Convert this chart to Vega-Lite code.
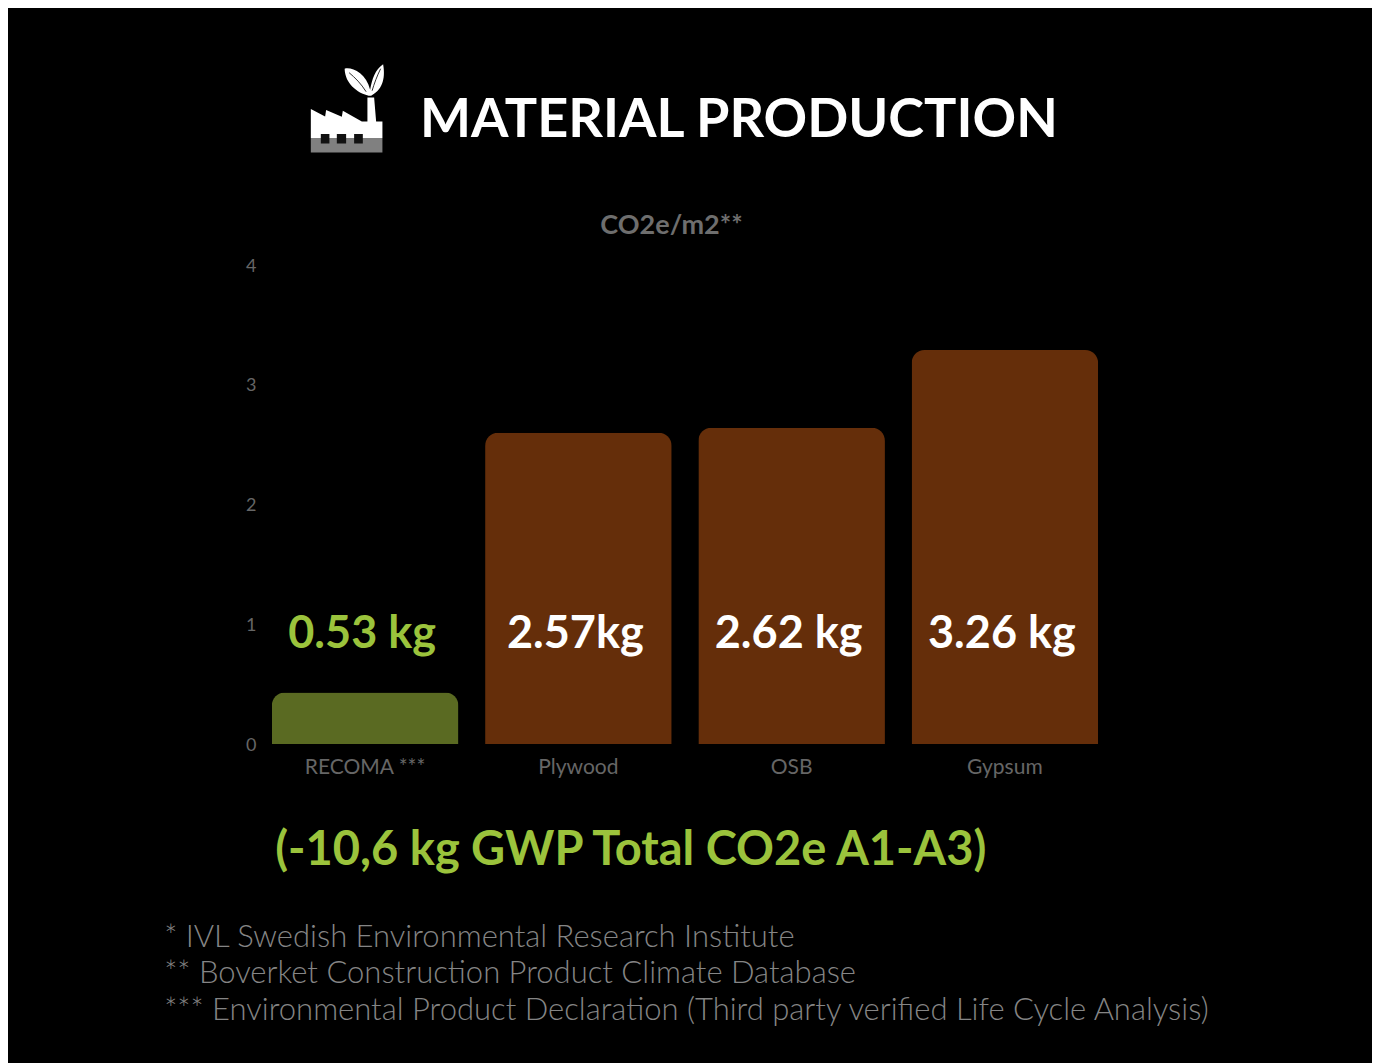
{"$schema":"https://vega.github.io/schema/vega-lite/v6.json","width":1364,"height":1055,"autosize":"none","padding":{"left":8,"top":8,"right":5,"bottom":0},"background":"#ffffff","view":{"fill":"#000000","stroke":null},"title":{"text":"MATERIAL PRODUCTION","anchor":"start","frame":"group","dx":412,"dy":144,"font":"Lato","fontWeight":"bold","fontSize":54,"color":"#ffffff"},"resolve":{"scale":{"color":"independent"}},"layer":[{"data":{"values":[{"material":"RECOMA ***","value":0.43,"group":"recoma"},{"material":"Plywood","value":2.6,"group":"other"},{"material":"OSB","value":2.64,"group":"other"},{"material":"Gypsum","value":3.29,"group":"other"}]},"mark":{"type":"bar","cornerRadiusTopLeft":13,"cornerRadiusTopRight":13},"encoding":{"x":{"field":"material","type":"nominal","sort":null,"scale":{"range":[250.5,1103.5],"paddingInner":0.125,"paddingOuter":0.0625},"axis":{"title":null,"offset":-319,"domain":false,"ticks":false,"labelAngle":0,"labelPadding":12,"labelFont":"Lato","labelFontSize":21,"labelColor":"#666666"}},"y":{"field":"value","type":"quantitative","scale":{"domain":[0,4],"range":[736,257],"nice":false},"axis":{"title":"CO2e/m2**","titleAngle":0,"titleFont":"Lato","titleFontWeight":"bold","titleFontSize":27,"titleColor":"#6e6e6e","titleX":413,"titleY":217,"titleAlign":"center","titleBaseline":"middle","offset":-250,"domain":false,"ticks":false,"grid":false,"values":[0,1,2,3,4],"format":"d","labelPadding":2,"labelOffset":1,"labelFont":"Lato","labelFontSize":18,"labelColor":"#666666"}},"color":{"field":"group","type":"nominal","legend":null,"scale":{"domain":["recoma","other"],"range":["#5a6a22","#652e0a"]}}}},{"data":{"values":[{"material":"RECOMA ***","label":"0.53 kg","group":"recoma"},{"material":"Plywood","label":"2.57kg","group":"other"},{"material":"OSB","label":"2.62 kg","group":"other"},{"material":"Gypsum","label":"3.26 kg","group":"other"}]},"mark":{"type":"text","font":"Lato","fontWeight":"bold","fontSize":45,"dx":-3,"baseline":"middle"},"encoding":{"x":{"field":"material","type":"nominal","sort":null},"y":{"datum":0.92,"type":"quantitative"},"text":{"field":"label"},"color":{"field":"group","type":"nominal","legend":null,"scale":{"domain":["recoma","other"],"range":["#9bc33c","#ffffff"]}}}},{"data":{"values":[{"material":"RECOMA ***","note":"(-10,6 kg GWP Total CO2e A1-A3)"}]},"mark":{"type":"text","font":"Lato","fontWeight":"bold","fontSize":47,"align":"left","baseline":"middle","dx":-90,"color":"#9bc33c"},"encoding":{"x":{"field":"material","type":"nominal","sort":null},"y":{"datum":-0.893,"type":"quantitative"},"text":{"field":"note"}}},{"data":{"values":[{"material":"RECOMA ***","note":"* IVL Swedish Environmental Research Institute"}]},"mark":{"type":"text","font":"Lato","fontWeight":300,"fontSize":31,"align":"left","baseline":"middle","dx":-201,"color":"#858585"},"encoding":{"x":{"field":"material","type":"nominal","sort":null},"y":{"datum":-1.62,"type":"quantitative"},"text":{"field":"note"}}},{"data":{"values":[{"material":"RECOMA ***","note":"** Boverket Construction Product Climate Database"}]},"mark":{"type":"text","font":"Lato","fontWeight":300,"fontSize":31,"align":"left","baseline":"middle","dx":-201,"color":"#858585"},"encoding":{"x":{"field":"material","type":"nominal","sort":null},"y":{"datum":-1.92,"type":"quantitative"},"text":{"field":"note"}}},{"data":{"values":[{"material":"RECOMA ***","note":"*** Environmental Product Declaration (Third party verified Life Cycle Analysis)"}]},"mark":{"type":"text","font":"Lato","fontWeight":300,"fontSize":31,"align":"left","baseline":"middle","dx":-201,"color":"#858585"},"encoding":{"x":{"field":"material","type":"nominal","sort":null},"y":{"datum":-2.23,"type":"quantitative"},"text":{"field":"note"}}},{"data":{"values":[{"material":"RECOMA ***","part":"factory"}]},"mark":{"type":"point","filled":true,"opacity":1,"size":4,"xOffset":-19,"fill":"#ffffff","stroke":null,"shape":"M-35.3 0.3L-21 7.7L-20 1.3L-4.3 8L-3.3 2L15.7 12.7L21.3 12.7L21.3 -11.3L28 -11.3L30 12.7L36.3 12.7L36.3 29.3L-35.3 29.3Z"},"encoding":{"x":{"field":"material","type":"nominal","sort":null},"y":{"datum":5.305,"type":"quantitative"}}},{"data":{"values":[{"material":"RECOMA ***","part":"base"}]},"mark":{"type":"point","filled":true,"opacity":1,"size":4,"xOffset":-19,"fill":"#808080","stroke":null,"shape":"M-35.3 29.3L36.3 29.3L36.3 43.7L-35.3 43.7Z"},"encoding":{"x":{"field":"material","type":"nominal","sort":null},"y":{"datum":5.305,"type":"quantitative"}}},{"data":{"values":[{"material":"RECOMA ***","part":"windows"}]},"mark":{"type":"point","filled":true,"opacity":1,"size":4,"xOffset":-19,"fill":"#111111","stroke":null,"shape":"M-25.3 25.3L-16.7 25.3L-16.7 34.7L-25.3 34.7ZM-9.3 25.3L0 25.3L0 34.7L-9.3 34.7ZM8 25.3L16.7 25.3L16.7 34.7L8 34.7Z"},"encoding":{"x":{"field":"material","type":"nominal","sort":null},"y":{"datum":5.305,"type":"quantitative"}}},{"data":{"values":[{"material":"RECOMA ***","part":"leaves"}]},"mark":{"type":"point","filled":true,"opacity":1,"size":4,"xOffset":-19,"fill":"#ffffff","stroke":null,"shape":"M22.5 -13C11 -16 -1 -25 -1.5 -40C5 -42 20 -36 24 -19C26 -30 29 -39 37 -44.5C39 -33 38 -20 25 -13Z"},"encoding":{"x":{"field":"material","type":"nominal","sort":null},"y":{"datum":5.305,"type":"quantitative"}}},{"data":{"values":[{"material":"RECOMA ***","part":"veins"}]},"mark":{"type":"point","filled":false,"opacity":1,"size":4,"xOffset":-19,"stroke":"#333333","strokeWidth":1,"shape":"M20 -17C15 -25 9 -31 3 -36M26 -18C28 -25 31 -33 34.5 -40"},"encoding":{"x":{"field":"material","type":"nominal","sort":null},"y":{"datum":5.305,"type":"quantitative"}}}]}
